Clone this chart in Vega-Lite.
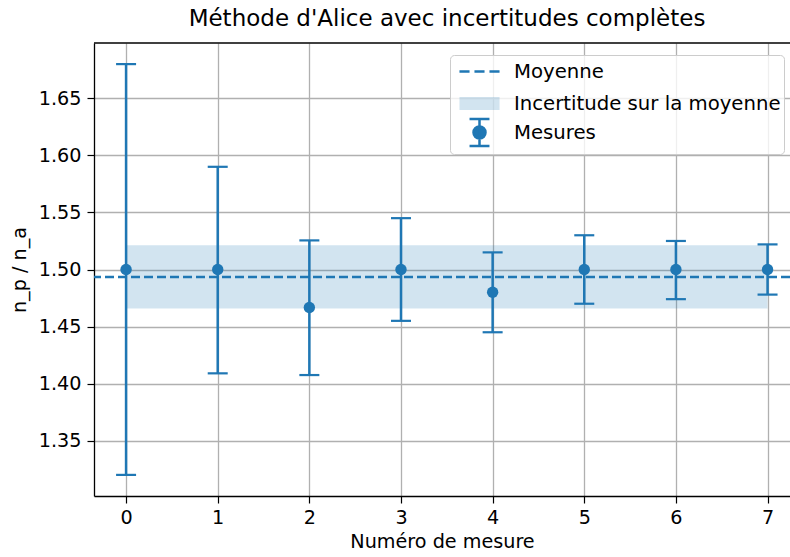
{
  "$schema": "https://vega.github.io/schema/vega-lite/v6.json",
  "autosize": {"type": "none"},
  "padding": {"left": 94, "top": 43, "right": 0, "bottom": 60},
  "width": 696,
  "height": 453,
  "background": "white",
  "title": {
    "text": "Méthode d'Alice avec incertitudes complètes",
    "font": "DejaVu Sans",
    "fontSize": 23,
    "fontWeight": "normal",
    "color": "black",
    "baseline": "bottom",
    "offset": 9,
    "dx": 5,
    "dy": 21
  },
  "config": {
    "view": {"stroke": null},
    "axis": {
      "labelFont": "DejaVu Sans",
      "labelFontSize": 19.2,
      "labelColor": "black",
      "titleFont": "DejaVu Sans",
      "titleFontSize": 19.2,
      "titleFontWeight": "normal",
      "titleColor": "black",
      "tickColor": "black",
      "tickSize": 7,
      "tickWidth": 1.2,
      "domainColor": "black",
      "domainWidth": 1.3,
      "gridColor": "#b0b0b0",
      "gridWidth": 1.3
    },
    "legend": {
      "labelFont": "DejaVu Sans",
      "labelFontSize": 19.7,
      "labelColor": "black"
    }
  },
  "datasets": {
    "meas": [
      {"n": 0, "v": 1.5, "lo": 1.32, "hi": 1.68},
      {"n": 1, "v": 1.5, "lo": 1.409, "hi": 1.59},
      {"n": 2, "v": 1.4667, "lo": 1.4075, "hi": 1.5255},
      {"n": 3, "v": 1.5, "lo": 1.455, "hi": 1.545},
      {"n": 4, "v": 1.48, "lo": 1.445, "hi": 1.515},
      {"n": 5, "v": 1.5, "lo": 1.47, "hi": 1.53},
      {"n": 6, "v": 1.5, "lo": 1.474, "hi": 1.525},
      {"n": 7, "v": 1.5, "lo": 1.478, "hi": 1.522}
    ],
    "band": [
      {"x0": 0, "x1": 7, "lo": 1.4658, "hi": 1.5213}
    ],
    "mean": [
      {"m": 1.4935}
    ]
  },
  "layer": [
    {
      "data": {"name": "band"},
      "mark": {"type": "rect", "fillOpacity": 0.2},
      "encoding": {
        "x": {
          "field": "x0", "type": "quantitative",
          "scale": {"domain": [-0.35, 7.245], "nice": false, "zero": false},
          "axis": {"values": [0, 1, 2, 3, 4, 5, 6, 7], "format": "d", "title": "Numéro de mesure", "labelPadding": 5, "titlePadding": 5, "grid": true}
        },
        "x2": {"field": "x1"},
        "y": {
          "field": "lo", "type": "quantitative",
          "scale": {"domain": [1.3015, 1.6985], "nice": false, "zero": false},
          "axis": {"values": [1.35, 1.4, 1.45, 1.5, 1.55, 1.6, 1.65], "format": ".2f", "title": "n_p / n_a", "labelPadding": 6, "titlePadding": 9, "grid": true}
        },
        "y2": {"field": "hi"},
        "color": {
          "datum": "Incertitude sur la moyenne",
          "scale": {
            "domain": ["Moyenne", "Incertitude sur la moyenne", "Mesures"],
            "range": ["#1f77b4", "#1f77b4", "#1f77b4"]
          },
          "legend": {
            "title": null,
            "orient": "none",
            "legendX": 356,
            "legendY": 12,
            "padding": 3,
            "rowPadding": -3,
            "symbolSize": 576,
            "symbolOffset": 13,
            "labelOffset": 21,
            "labelLimit": 400,
            "fillColor": "rgba(255,255,255,0.8)",
            "strokeColor": "#cccccc",
            "cornerRadius": 4,
            "encode": {
              "symbols": {
                "update": {
                  "shape": {"signal": "datum.value === 'Moyenne' ? 'M0,-1.125M0,1.125M-1.67,0H-0.83M-0.42,0H0.42M0.83,0H1.67' : (datum.value === 'Mesures' ? 'M-0.83,-1.125H0.83M0,-1.125V1.125M-0.83,1.125H0.83M0.5,0A0.5,0.5 0 1 1 -0.5,0A0.5,0.5 0 1 1 0.5,0Z' : 'M0,-1.125M0,1.125M-1.67,-0.54H1.67V0.54H-1.67Z')"},
                  "fill": {"signal": "datum.value === 'Moyenne' ? 'transparent' : '#1f77b4'"},
                  "fillOpacity": {"signal": "datum.value === 'Incertitude sur la moyenne' ? 0.2 : 1"},
                  "stroke": {"value": "#1f77b4"},
                  "strokeOpacity": {"signal": "datum.value === 'Incertitude sur la moyenne' ? 0 : 1"},
                  "strokeWidth": {"value": 2.5},
                  "strokeDash": {"value": []},
                  "opacity": {"value": 1},
                  "size": {"value": 576}
                }
              }
            }
          }
        }
      }
    },
    {
      "data": {"name": "mean"},
      "mark": {"type": "rule", "strokeWidth": 2.5, "strokeDash": [9, 4]},
      "encoding": {
        "y": {"field": "m", "type": "quantitative"},
        "color": {"datum": "Moyenne"}
      }
    },
    {
      "data": {"name": "meas"},
      "mark": {"type": "rule", "strokeWidth": 2.5, "color": "#1f77b4"},
      "encoding": {
        "x": {"field": "n", "type": "quantitative"},
        "y": {"field": "lo", "type": "quantitative"},
        "y2": {"field": "hi"}
      }
    },
    {
      "data": {"name": "meas"},
      "mark": {"type": "tick", "orient": "horizontal", "size": 20, "thickness": 2.2, "color": "#1f77b4", "opacity": 1},
      "encoding": {
        "x": {"field": "n", "type": "quantitative"},
        "y": {"field": "lo", "type": "quantitative"}
      }
    },
    {
      "data": {"name": "meas"},
      "mark": {"type": "tick", "orient": "horizontal", "size": 20, "thickness": 2.2, "color": "#1f77b4", "opacity": 1},
      "encoding": {
        "x": {"field": "n", "type": "quantitative"},
        "y": {"field": "hi", "type": "quantitative"}
      }
    },
    {
      "data": {"name": "meas"},
      "mark": {"type": "point", "filled": true, "opacity": 1, "size": 130},
      "encoding": {
        "x": {"field": "n", "type": "quantitative"},
        "y": {"field": "v", "type": "quantitative"},
        "color": {"datum": "Mesures"}
      }
    },
    {
      "data": {"name": "mean"},
      "mark": {"type": "rule", "strokeWidth": 1.3, "color": "black"},
      "encoding": {
        "y": {"datum": 1.6985, "type": "quantitative"}
      }
    }
  ]
}
